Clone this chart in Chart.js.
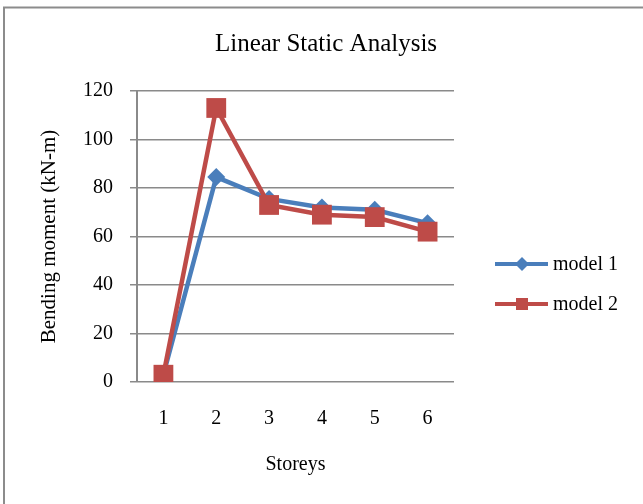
<!DOCTYPE html>
<html>
<head>
<meta charset="utf-8">
<script src="https://cdn.jsdelivr.net/npm/chart.js@4.4.0/dist/chart.umd.min.js"></script>
<style>
  body { margin: 0; background: #fff; }
  canvas { display: block; }
</style>
</head>
<body>
<canvas id="myChart" width="643" height="504"></canvas>
<script>
const storeys = ['1', '2', '3', '4', '5', '6'];
const model1 = [3, 84.5, 75.5, 72, 71, 65.5];
const model2 = [3, 113, 73, 69, 68, 62];
const seriesNames = ['model 1', 'model 2'];
const chartTitle = 'Linear Static Analysis';

const blue = '#4A7EBB';
const red = '#BE4B48';
const gridGray = '#8a8a8a';
const serif = "'Liberation Serif', 'Times New Roman', serif";

// frame around the whole figure (top + left edges are visible)
const framePlugin = {
    id: 'frame',
    beforeDraw(chart) {
        const ctx = chart.ctx;
        ctx.save();
        ctx.fillStyle = '#fff';
        ctx.fillRect(0, 0, chart.width, chart.height);
        ctx.strokeStyle = '#8c8c8c';
        ctx.lineWidth = 2;
        ctx.strokeRect(4, 7.5, chart.width + 20, chart.height + 20);
        ctx.restore();
    }
};

// title is centred on the whole figure, not on the plot
const titlePlugin = {
    id: 'figTitle',
    afterDraw(chart) {
        const ctx = chart.ctx;
        ctx.save();
        ctx.fillStyle = '#000';
        ctx.font = '25px ' + serif;
        ctx.textAlign = 'center';
        ctx.textBaseline = 'middle';
        ctx.fillText(chartTitle, 326, 44);
        ctx.restore();
    }
};

// legend drawn as line + marker like the office chart
const legendPlugin = {
    id: 'sideLegend',
    afterDraw(chart) {
        const ctx = chart.ctx;
        chart.data.datasets.forEach((ds, i) => {
            const y = 264 + i * 40;
            ctx.save();
            ctx.strokeStyle = ds.borderColor;
            ctx.lineWidth = 4;
            ctx.beginPath();
            ctx.moveTo(495, y);
            ctx.lineTo(548, y);
            ctx.stroke();
            ctx.fillStyle = ds.borderColor;
            Chart.helpers.drawPoint(ctx, {
                pointStyle: ds.pointStyle,
                radius: ds.pointStyle === 'rect' ? 8.5 : 7,
                rotation: 0,
                borderWidth: 0
            }, 522, y);
            ctx.fillStyle = '#000';
            ctx.font = '20px ' + serif;
            ctx.textBaseline = 'middle';
            ctx.textAlign = 'left';
            ctx.fillText(ds.label, 553, y + 1);
            ctx.restore();
        });
    }
};

const chart = document.querySelector('#myChart');

let myChart = new Chart(chart, {
    type: 'line',
    data: {
        labels: storeys,
        datasets: [{
            label: seriesNames[0],
            data: model1,
            borderColor: blue,
            backgroundColor: blue,
            borderWidth: 4.5,
            pointStyle: 'rectRot',
            pointRadius: 9,
            pointBorderWidth: 0,
            pointBackgroundColor: blue,
            tension: 0,
            order: 1
        }, {
            label: seriesNames[1],
            data: model2,
            borderColor: red,
            backgroundColor: red,
            borderWidth: 4.5,
            pointStyle: 'rect',
            pointRadius: 14,
            pointBorderWidth: 0,
            pointBackgroundColor: red,
            tension: 0,
            order: 0
        }]
    },
    options: {
        responsive: false,
        animation: false,
        layout: {
            padding: { left: 0, right: 189, top: 91, bottom: 0 }
        },
        plugins: {
            legend: { display: false },
            tooltip: { enabled: false },
            title: { display: false }
        },
        scales: {
            x: {
                offset: true,
                grid: { display: false, drawTicks: false, tickLength: 0 },
                border: { display: false },
                ticks: {
                    color: '#000',
                    font: { family: serif, size: 20 },
                    padding: 25,
                    maxRotation: 0
                },
                title: {
                    display: true,
                    text: 'Storeys',
                    color: '#000',
                    font: { family: serif, size: 20 },
                    padding: { top: 0, bottom: 27 }
                },
                afterFit: (s) => { s.height = 122; }
            },
            y: {
                min: 0,
                max: 120,
                grid: {
                    color: gridGray,
                    lineWidth: 1.5,
                    drawTicks: true,
                    tickLength: 7
                },
                border: { display: true, color: gridGray, width: 2 },
                ticks: {
                    stepSize: 20,
                    color: '#000',
                    font: { family: serif, size: 20 },
                    padding: 17
                },
                title: {
                    display: true,
                    text: 'Bending moment (kN-m)',
                    color: '#000',
                    font: { family: serif, size: 21 },
                    padding: { top: 37, bottom: 0 }
                },
                afterFit: (s) => { s.width = 137; }
            }
        }
    },
    plugins: [framePlugin, titlePlugin, legendPlugin]
});
</script>
</body>
</html>
